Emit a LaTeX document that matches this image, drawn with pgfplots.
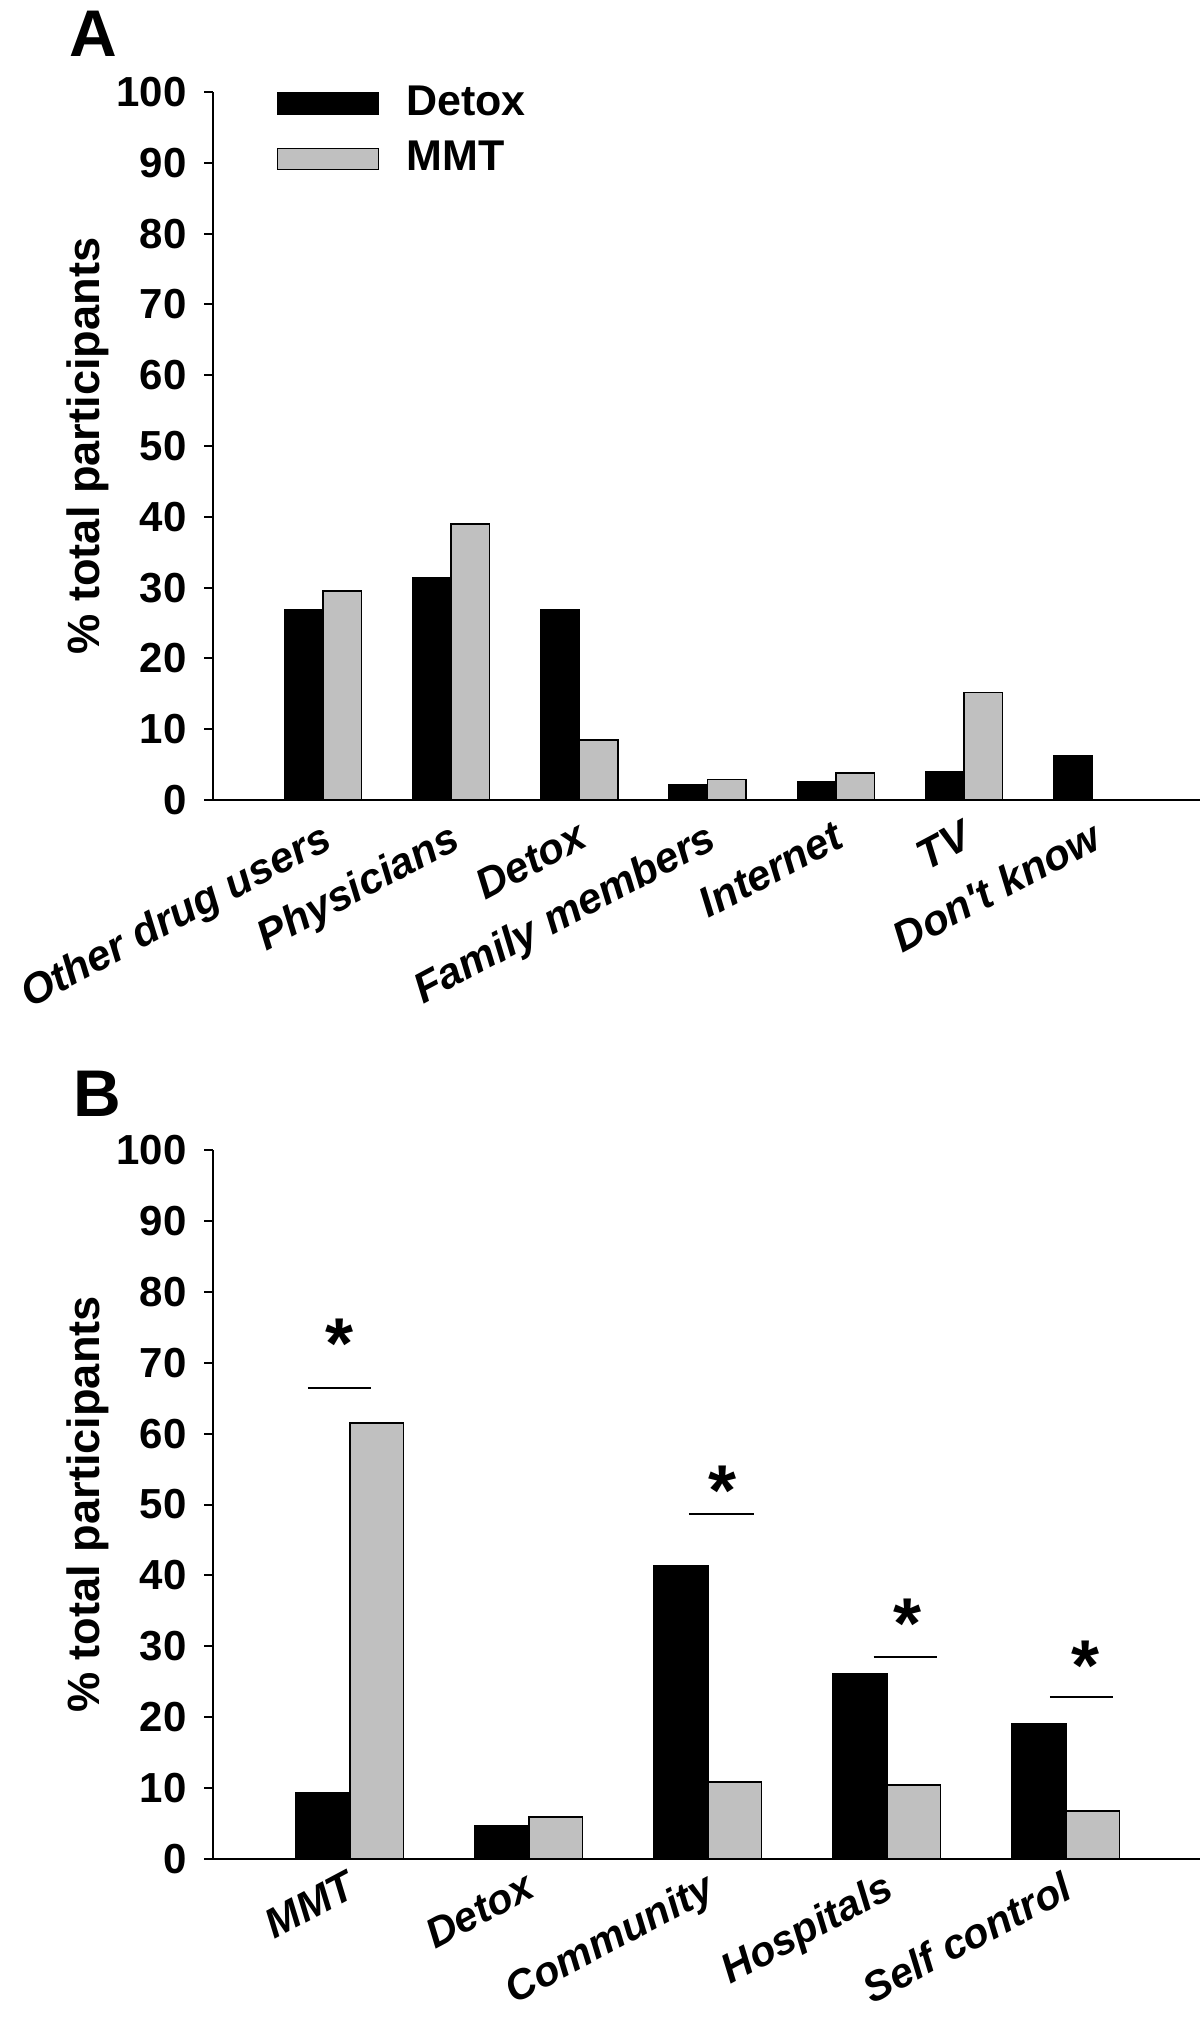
\documentclass[border=0pt]{standalone}
\usepackage{pgfplots}
\pgfplotsset{compat=1.18}
\usepackage{fontspec}
\setmainfont{Liberation Sans}
\definecolor{mmtgray}{HTML}{C0C0C0}

\tikzset{starnode/.style={anchor=north, inner sep=0pt, font=\bfseries\fontsize{18}{18}\selectfont}}

\pgfplotsset{
  panel/.style={
    scale only axis, width=246.75pt,
    ymin=0, ymax=100, ytick={0,10,...,100},
    axis x line*=bottom, axis y line*=left,
    axis line style={line width=0.5pt, -},
    tick align=outside, major tick length=2.2pt,
    xtick style={draw=none},
    ytick style={line width=0.5pt, black},
    /pgf/number format/assume math mode=true,
    yticklabel style={font=\bfseries\fontsize{10.5}{12}\selectfont, inner sep=0pt, xshift=-4.25pt},
    ylabel={\% total participants},
    every axis y label/.style={at={(axis description cs:-0.1266,0.5)}, rotate=90, anchor=center, font=\bfseries\fontsize{11.3}{13}\selectfont},
    clip=false,
  },
  detoxbar/.style={ybar, bar width=0.3, bar shift=-0.15, fill=black, draw=black, line width=0.4pt},
  mmtbar/.style={ybar, bar width=0.3, bar shift=0.15, fill=mmtgray, draw=black, line width=0.4pt},
}

\begin{document}
\begin{tikzpicture}
\useasboundingbox (0,0) rectangle (300pt,506.75pt);

% Panel A
\begin{axis}[panel,
  at={(53.25pt,306.75pt)}, anchor=south west, height=177pt,
  xmin=-0.858, xmax=6.84,
  xtick={0,1,2,3,4,5,6},
  xticklabels={Other drug users, Physicians, Detox, Family members, Internet, TV, Don\textquotesingle t know},
  xticklabel style={font=\bfseries\itshape\fontsize{10.6}{12}\selectfont, anchor=north east, inner sep=0pt, xshift=-0.8pt, yshift=-2.5pt, rotate=28},
  legend style={draw=none, fill=none, at={(axis description cs:0.0638,1.01)}, anchor=north west,
    font=\bfseries\fontsize{10.75}{12}\selectfont, inner sep=0pt, row sep=5pt, column sep=6.75pt,
    nodes={inner sep=0pt}},
  legend cell align=left,
  legend image code/.code={\draw[#1] (0pt,-2.6pt) rectangle (25.25pt,2.6pt);},
]
\addplot[detoxbar] coordinates {(0,26.8) (1,31.4) (2,26.8) (3,2.2) (4,2.5) (5,4.0) (6,6.2)};
\addlegendentry{Detox}
\addplot[mmtbar] coordinates {(0,29.5) (1,39.0) (2,8.5) (3,2.9) (4,3.8) (5,15.2)};
\addlegendentry{MMT}
\end{axis}

% Panel B
\begin{axis}[panel,
  at={(53.25pt,42pt)}, anchor=south west, height=177.25pt,
  xmin=-0.765, xmax=4.75,
  xtick={0,1,2,3,4},
  xticklabels={MMT, Detox, Community, Hospitals, Self control},
  xticklabel style={font=\bfseries\itshape\fontsize{10.4}{12}\selectfont, anchor=north east, inner sep=0pt, xshift=-1.2pt, yshift=-0.3pt, rotate=28},
]
\addplot[detoxbar] coordinates {(0,9.3) (1,4.7) (2,41.4) (3,26.1) (4,19.1)};
\addplot[mmtbar] coordinates {(0,61.5) (1,5.9) (2,10.9) (3,10.4) (4,6.8)};
% significance lines
\addplot[black, line width=0.5pt] coordinates {(-0.235,66.4) (0.117,66.4)};
\addplot[black, line width=0.5pt] coordinates {(1.894,48.6) (2.257,48.6)};
\addplot[black, line width=0.5pt] coordinates {(2.927,28.5) (3.279,28.5)};
\addplot[black, line width=0.5pt] coordinates {(3.911,22.8) (4.263,22.8)};
\node[starnode] at (axis cs:-0.056,76.3) {*};
\node[starnode] at (axis cs:2.084,55.6) {*};
\node[starnode] at (axis cs:3.117,36.8) {*};
\node[starnode] at (axis cs:4.112,30.9) {*};
\end{axis}

\node[anchor=north west, inner sep=0pt, font=\bfseries\fontsize{16.5}{18}\selectfont] at (17.25pt,504.25pt) {A};
\node[anchor=north west, inner sep=0pt, font=\bfseries\fontsize{16.5}{18}\selectfont] at (18.25pt,239.25pt) {B};
\end{tikzpicture}
\end{document}
